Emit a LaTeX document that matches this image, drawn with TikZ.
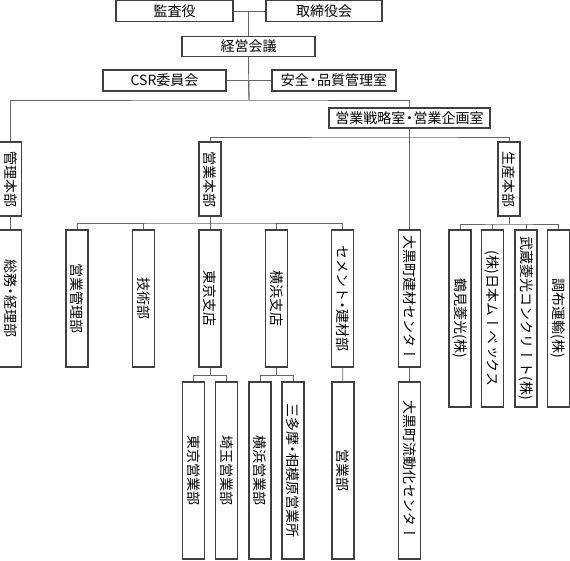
\documentclass[tikz,border=0pt]{standalone}
\usepackage{fontspec}
\usepackage{graphicx}
\usepackage{tikz}
\usetikzlibrary{positioning}
\newfontfamily\jpfont{Noto Sans CJK JP}
\newfontfamily\tatefont[Vertical=RotatedGlyphs]{Noto Sans CJK JP}
\newcommand{\tate}[1]{\rotatebox{-90}{\tatefont #1}}
\newcommand{\nakaguro}{\kern-0.2em・\kern-0.2em}
\definecolor{boxline}{gray}{0.25}
\definecolor{linkline}{gray}{0.4}

\begin{document}
\begin{tikzpicture}[x=1pt, y=-1pt,
    hbox/.style={draw=boxline, line width=1.2pt, fill=white, inner sep=0pt, minimum height=20pt, font=\jpfont\fontsize{14}{16}\selectfont},
    vbox/.style={draw=boxline, line width=1.2pt, fill=white, inner sep=0pt, minimum width=22pt, font=\fontsize{14}{16}\selectfont},
    link/.style={draw=linkline, line width=0.9pt}]
      \useasboundingbox (0,0) rectangle (570,560);

      % TOP
      \node[hbox, minimum width=117pt, minimum height=21pt] (kansa) at (174.5,11) {監査役};
      \node[hbox, minimum width=116pt, minimum height=21pt] (torishimari) at (324,11) {取締役会};
      \node[hbox, minimum width=133pt] (keiei) at (248.5,46.5) {経営会議};
      \node[hbox, minimum width=123pt, minimum height=21pt] (csr) at (164.5,80.5) {CSR委員会};
      \node[hbox, minimum width=124pt, minimum height=21pt] (anzen) at (334,80.5) {安全\nakaguro 品質管理室};
      \node[hbox, minimum width=161pt] (senryaku) at (409.5,118) {営業戦略室\nakaguro 営業企画室};

      \coordinate (bus1) at (249,100);
      \draw[link] (kansa) -- (torishimari);
      \draw[link] (keiei.north |- kansa.east) -- (keiei.north);
      \draw[link] (csr) -- (anzen);
      \draw[link] (keiei.south) -- (bus1);
      \draw[link] (keiei.south |- csr.east) -- (bus1);

      % HONBU
      \node[vbox, minimum height=74pt] (kanri) at (10.5,179) {\tate{管理本部}};
      \node[vbox, minimum height=74pt] (eigyo) at (210,179) {\tate{営業本部}};
      \node[vbox, minimum height=74pt] (seisan) at (509,179) {\tate{生産本部}};

      % Kanri
      \node[vbox, minimum height=137pt] (somu) at (10.5,298.5) {\tate{総務\nakaguro 経理部}};

      % Eigyo
      \node[vbox, minimum height=137pt] (ekanri) at (77,298.5) {\tate{営業管理部}};
      \node[vbox, minimum height=137pt] (gijutsu) at (143.5,298.5) {\tate{技術部}};
      \node[vbox, minimum height=137pt] (tokyo) at (210,298.5) {\tate{東京支店}};
      \node[vbox, minimum height=137pt] (yokohama) at (276.5,298.5) {\tate{横浜支店}};
      \node[vbox, minimum height=137pt] (cement) at (342.5,298.5) {\tate{セメント\nakaguro 建材部}};
      \node[vbox, minimum height=137pt] (daikoku) at (409.5,298.5) {\tate{大黒町建材センター}};

      % Seisan
      \node[vbox, minimum height=177pt] (tsurumi) at (460,318.5) {\tate{鶴見菱光(株)}};
      \node[vbox, minimum height=177pt] (nihon) at (492.5,318.5) {\tate{(株)日本ムーベックス}};
      \node[vbox, minimum height=177pt] (musashi) at (526,318.5) {\tate{武蔵菱光コンクリート(株)}};
      \node[vbox, minimum height=177pt] (chofu) at (558.5,318.5) {\tate{調布運輸(株)}};

      % Shiten
      \node[vbox, minimum height=177pt] (tokyoeig) at (193.5,470.5) {\tate{東京営業部}};
      \node[vbox, minimum height=177pt] (saitama) at (226.5,470.5) {\tate{埼玉営業部}};
      \node[vbox, minimum height=177pt] (yokoeig) at (260,470.5) {\tate{横浜営業部}};
      \node[vbox, minimum height=177pt] (santama) at (293,470.5) {\tate{三多摩\nakaguro 相模原営業所}};
      \node[vbox, minimum height=177pt] (cementeig) at (343,470.5) {\tate{営業部}};
      \node[vbox, minimum height=177pt] (ryudoka) at (409.5,470.5) {\tate{大黒町流動化センター}};

      % LINKS
      \coordinate (bus2) at (409.5,137);
      \coordinate (bus3) at (210,223);
      \coordinate (bus4) at (509,224);
      \draw[link] (kanri.north) |- (bus1) -| (senryaku.north);
      \draw[link] (senryaku.south) -- (daikoku.north);
      \draw[link] (eigyo.north) |- (bus2) -| (seisan.north);
      \draw[link] (kanri) -- (somu);

      \draw[link] (eigyo) -- (tokyo);
      \draw[link] (ekanri.north) |- (bus3) -| (cement.north);
      \draw[link] (gijutsu.north) -- (gijutsu.north |- bus3);
      \draw[link] (yokohama.north) -- (yokohama.north |- bus3);

      \draw[link] (seisan.south) -- (bus4);
      \draw[link] (tsurumi.north) |- (bus4) -| (chofu.north);
      \draw[link] (nihon.north) -- (nihon.north |- bus4);
      \draw[link] (musashi.north) -- (musashi.north |- bus4);

      \draw[link] (tokyo.south) -- ++(0,8) coordinate (bus5);
      \draw[link] (tokyoeig.north) |- (bus5) -| (saitama.north);
      \draw[link] (yokohama.south) -- ++(0,8) coordinate (bus6);
      \draw[link] (yokoeig.north) |- (bus6) -| (santama.north);
      \draw[link] (cement) -- (cementeig);
      \draw[link] (daikoku) -- (ryudoka);
    \end{tikzpicture}
\end{document}
